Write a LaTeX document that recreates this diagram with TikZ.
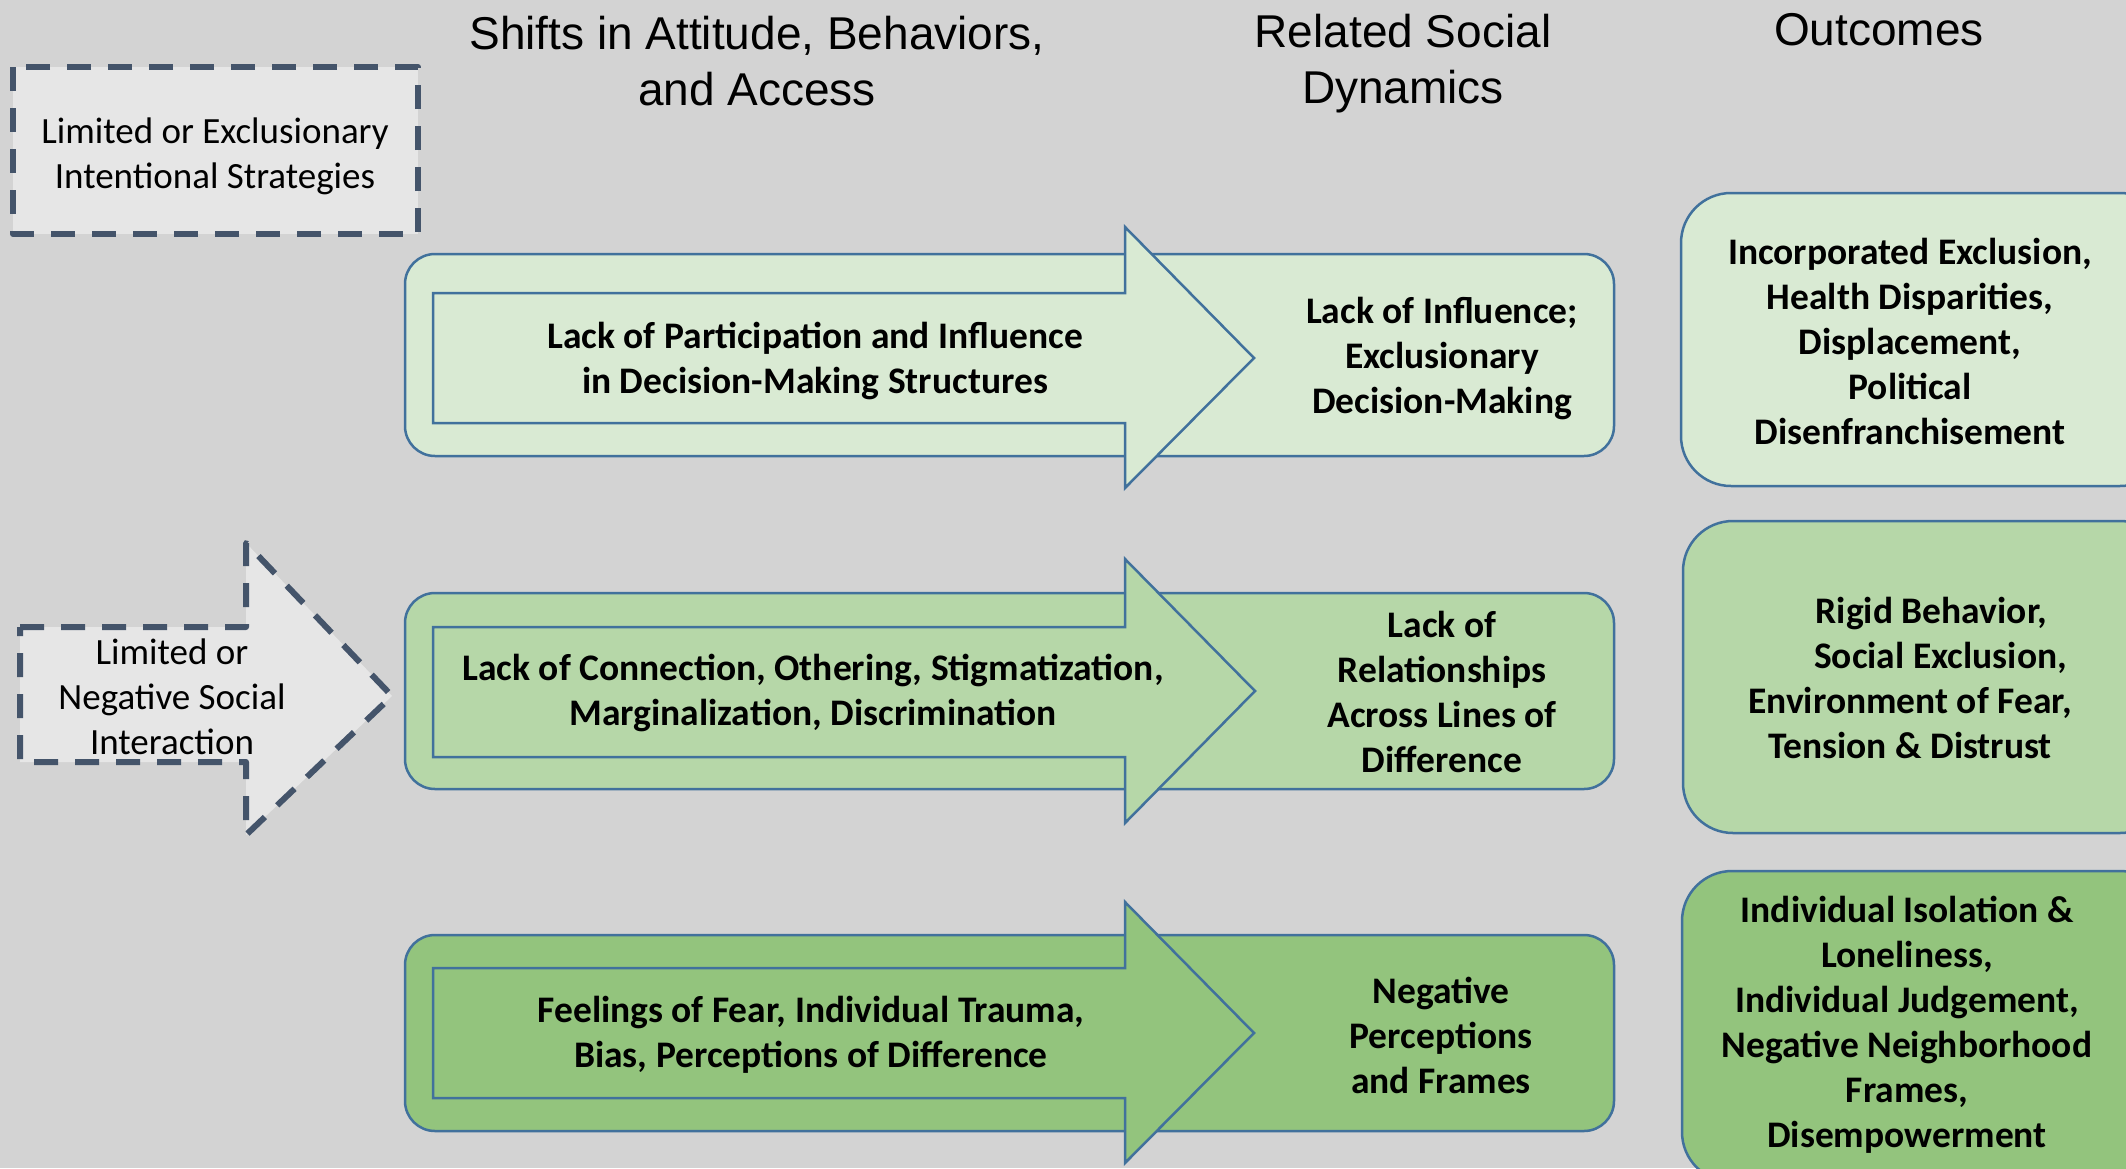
\documentclass[tikz,border=0pt]{standalone}
\usepackage{fontspec}
\setmainfont{Carlito}
\newfontfamily\hdrfont{Liberation Sans}
\definecolor{bg}{HTML}{D3D3D3}
\definecolor{bordblue}{HTML}{41719C}
\definecolor{dashcol}{HTML}{44546A}
\definecolor{dashfill}{HTML}{E6E6E6}
\definecolor{gA}{HTML}{D9EAD3}
\definecolor{gB}{HTML}{B6D7A8}
\definecolor{gC}{HTML}{93C47D}
\begin{document}
\begin{tikzpicture}[x=1pt,y=-1pt,
  rowbox/.style={draw=bordblue, line width=2.5pt, rounded corners=30pt},
  outbox/.style={draw=bordblue, line width=2.5pt, rounded corners=50pt},
  bigarrow/.style={draw=bordblue, line width=2.5pt, line join=miter},
  dashshape/.style={draw=dashcol, fill=dashfill, line width=6pt, dash pattern=on 24pt off 17pt, line join=round},
  btxt/.style={align=center, inner sep=0pt, font=\fontsize{37.5}{45}\selectfont\bfseries},
  rtxt/.style={align=center, inner sep=0pt, font=\fontsize{37}{45}\selectfont},
  hdr/.style={align=center, inner sep=0pt, font=\hdrfont\fontsize{46}{56}\selectfont}]
\useasboundingbox (0,0) rectangle (2126,1168);
\fill[bg] (0,0) rectangle (2126,1168);
\begin{scope}
\clip (0,0) rectangle (2126,1168);

% headers
\node[hdr] (h1) at (757,61) {Shifts in Attitude, Behaviors,\\and Access};
\node[hdr] (h2) at (1403,64) {Related Social\\Dynamics};
\node[hdr] (h3) at (1879,30) {Outcomes};

% left dashed shapes
\draw[dashshape] (13,67) rectangle (418,234);
\node[rtxt] (strat) at (215,156) {Limited or Exclusionary\\Intentional Strategies};
\draw[dashshape] (20,627) -- (246,627) -- (246,543) -- (392,696) -- (246,835) -- (246,762) -- (20,762) -- cycle;
\node[rtxt] (inter) at (172,697) {Limited or\\Negative Social\\Interaction};

% row 1
\draw[rowbox, fill=gA] (405,254) rectangle (1614,456);
\draw[bigarrow, fill=gA] (433,293) -- (1125,293) -- (1125,227) -- (1254,358) -- (1125,488) -- (1125,423) -- (433,423) -- cycle;
\node[btxt] (a1) at (815,361) {Lack of Participation and Influence\\in Decision-Making Structures};
\node[btxt] (d1) at (1442,359) {Lack of Influence;\\Exclusionary\\Decision-Making};
\draw[outbox, fill=gA] (1681,193) rectangle (2170,486);
\node[btxt] (o1) at (1910,341) {Incorporated Exclusion,\\Health Disparities,\\Displacement,\\Political\\Disenfranchisement};

% row 2
\draw[rowbox, fill=gB] (405,593) rectangle (1614,789);
\draw[bigarrow, fill=gB] (433,627) -- (1125,627) -- (1125,559) -- (1255,691) -- (1125,823) -- (1125,757) -- (433,757) -- cycle;
\node[btxt] (a2) at (813,693) {Lack of Connection, Othering, Stigmatization,\\Marginalization, Discrimination};
\node[btxt] (d2) at (1442,692) {Lack of\\Relationships\\Across Lines of\\Difference};
\draw[outbox, fill=gB] (1683,521) rectangle (2170,833);
\node[btxt] (o2) at (1910,678) {\hspace*{43pt}Rigid Behavior,\\\hspace*{61pt}Social Exclusion,\\Environment of Fear,\\Tension \& Distrust};

% row 3
\draw[rowbox, fill=gC] (405,935) rectangle (1614,1131);
\draw[bigarrow, fill=gC] (433,968) -- (1125,968) -- (1125,902) -- (1254,1033) -- (1125,1163) -- (1125,1098) -- (433,1098) -- cycle;
\node[btxt] (a3) at (811,1035) {Feelings of Fear, Individual Trauma,\\Bias, Perceptions of Difference};
\node[btxt] (d3) at (1441,1035) {Negative\\Perceptions\\and Frames};
\draw[outbox, fill=gC] (1682,871) rectangle (2170,1182);
\node[btxt] (o3) at (1907,1025) {Individual Isolation \&\\Loneliness,\\Individual Judgement,\\Negative Neighborhood\\Frames,\\Disempowerment};
\end{scope}
\end{tikzpicture}
\end{document}
